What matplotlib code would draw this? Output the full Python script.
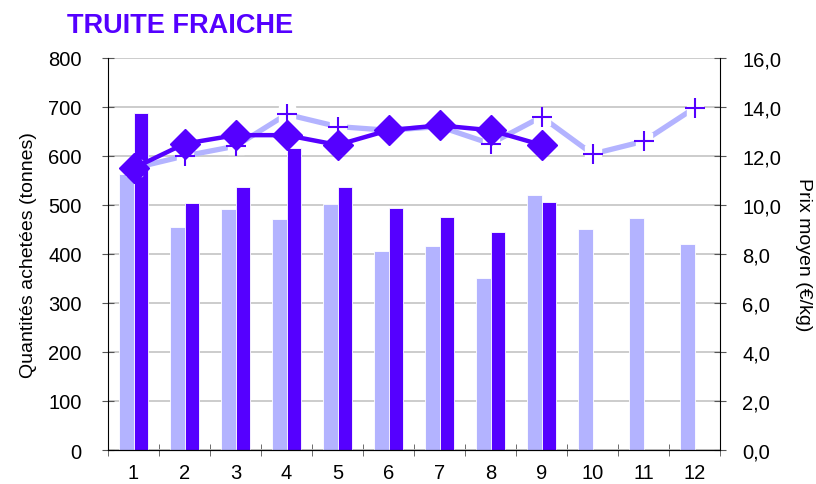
import numpy as np
import matplotlib.pyplot as plt
from matplotlib.ticker import FuncFormatter

plt.rcParams['font.family'] = ['Liberation Sans', 'DejaVu Sans']

# donnees
mois = np.arange(1, 13)
qte_prec = [564, 455, 492, 472, 503, 406, 417, 351, 521, 451, 474, 421]
qte_cour = [688, 505, 536, 616, 536, 493, 475, 445, 506]
prix_prec = [11.5, 12.0, 12.4, 13.7, 13.2, 13.05, 13.2, 12.5, 13.6, 12.08, 12.6, 13.96]
prix_cour = [11.5, 12.5, 12.85, 12.85, 12.45, 13.05, 13.25, 13.05, 12.45]

light = '#B3B3FF'
dark = '#5500FF'

fig = plt.figure(figsize=(8.16, 4.85), dpi=100)
ax = fig.add_axes([0.1324, 0.0701, 0.75, 0.8083])

w = 0.28
ax.bar(mois - w/2, qte_prec, width=w, color=light, edgecolor='white', linewidth=0.6, zorder=2)
ax.bar(mois[:len(qte_cour)] + w/2, qte_cour, width=w, color=dark, edgecolor='white', linewidth=0.6, zorder=2)

ax.set_xlim(0.5, 12.5)
ax.set_ylim(0, 800)
ax.set_yticks(np.arange(0, 801, 100))
ax.yaxis.grid(True, color='#C8C8C8', linewidth=1.3, zorder=0)
ax.set_axisbelow(True)
ax.set_xticks(mois)
ax.set_xticks(np.arange(0.5, 12.6, 1), minor=True)
ax.tick_params(axis='x', which='major', length=0, labelsize=14.5, pad=9)
ax.tick_params(axis='x', which='minor', direction='inout', length=8, color='#555555')
ax.tick_params(axis='y', direction='inout', length=8, color='#555555', labelsize=14.5, pad=15)
ax.spines['top'].set_visible(False)
ax.spines['right'].set_visible(False)
ax.set_ylabel('Quantités achetées (tonnes)', fontsize=14, labelpad=8)

ax2 = ax.twinx()
ax2.set_ylim(0, 16)
ax2.set_yticks(np.arange(0, 16.1, 2))
ax2.yaxis.set_major_formatter(FuncFormatter(lambda v, p: f'{v:.1f}'.replace('.', ',')))
ax2.tick_params(axis='y', direction='inout', length=8, color='#555555', labelsize=14.5, pad=12)
ax2.spines['top'].set_visible(False)
ax2.spines['left'].set_visible(False)
ax2.set_ylabel('Prix moyen (€/kg)', fontsize=14, rotation=270, labelpad=22)

# serie annee precedente : ligne claire + croix sur fond blanc
ax2.plot(mois, prix_prec, color=light, linewidth=3.8, zorder=3)
ax2.plot(mois, prix_prec, linestyle='none', marker='s', markersize=11,
         color='white', zorder=3.5)
ax2.plot(mois, prix_prec, linestyle='none', marker='+', markersize=15, markeredgewidth=1.5,
         color=dark, zorder=4)
# serie annee en cours
ax2.plot(mois[:len(prix_cour)], prix_cour, color=dark, linewidth=3.2, marker='D',
         markersize=15, markeredgecolor=dark, zorder=5)

fig.text(0.082, 0.947, 'TRUITE FRAICHE', color=dark, fontsize=19.5, fontweight='bold', va='center')

plt.savefig('out.png', dpi=100)
